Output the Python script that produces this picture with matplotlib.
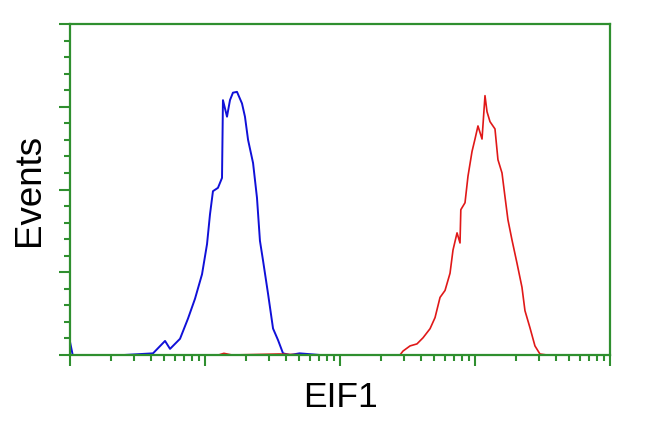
import numpy as np
import matplotlib
matplotlib.use("Agg")
import matplotlib.pyplot as plt
from matplotlib.ticker import LogLocator, MultipleLocator, NullFormatter

# log10 fluorescence intensity (decades) and event counts
blue_log = [0.0, 0.02, 0.05, 0.40, 0.615, 0.704, 0.741, 0.815, 0.874, 0.926,
            0.978, 1.015, 1.037, 1.059, 1.096, 1.126, 1.133, 1.163, 1.185, 1.207,
            1.237, 1.274, 1.296, 1.319, 1.356, 1.385, 1.407, 1.430, 1.467, 1.504,
            1.541, 1.578, 1.630, 1.700, 1.852]
blue_counts = [8, 0, 0, 0, 1, 8.5, 3.7, 9.8, 22, 34,
               48.8, 67, 85, 99, 101, 107, 154, 144, 154, 158.5,
               159, 152, 144, 130, 116, 95, 69, 57, 37, 16,
               9, 1, 0, 1, 0]

red_log = [1.10, 1.14, 1.20, 1.55, 1.75, 2.222, 2.444, 2.467, 2.519, 2.570, 2.615, 2.667,
           2.704, 2.741, 2.778, 2.815, 2.837, 2.867, 2.889, 2.895, 2.926, 2.948,
           2.978, 3.000, 3.022, 3.052, 3.074, 3.089, 3.111, 3.148, 3.170,
           3.200, 3.222, 3.244, 3.274, 3.311, 3.348, 3.370, 3.407, 3.444,
           3.481, 3.533]
red_counts = [0, 1, 0, 0.6, 0, 0, 0, 2.4, 5.5, 6.7, 10.4, 15.9,
              22.6, 34.8, 39, 49.4, 63.4, 73.8, 67.7, 87.8, 92, 108,
              123, 130.5, 138.4, 130.5, 156.7, 147, 141, 136.6, 118,
              110, 95.7, 81.7, 69.5, 55.5, 40.9, 26.8, 16.5, 5.5,
              0.6, 0]

x_label = "EIF1"
y_label = "Events"

green = "#2f8f2f"

fig = plt.figure(figsize=(6.5, 4.32), dpi=100)
ax = fig.add_axes([70/650, 1-355/432, 540/650, 331/432])

ax.plot(10**np.array(blue_log), blue_counts, color="#1010d8", lw=1.4)
ax.plot(10**np.array(red_log), red_counts, color="#e01818", lw=1.2)

ax.set_xscale("log")
ax.set_xlim(1, 10**4)
ax.set_ylim(0, 200)

for s in ax.spines.values():
    s.set_color(green)
    s.set_linewidth(1.6)

ax.xaxis.set_major_locator(LogLocator(base=10, numticks=10))
ax.xaxis.set_minor_locator(LogLocator(base=10, subs=np.arange(2, 10), numticks=100))
ax.xaxis.set_major_formatter(NullFormatter())
ax.xaxis.set_minor_formatter(NullFormatter())
ax.yaxis.set_major_locator(MultipleLocator(50))
ax.yaxis.set_minor_locator(MultipleLocator(10))
ax.yaxis.set_major_formatter(NullFormatter())

ax.tick_params(axis="both", which="major", direction="out", length=8, width=1.5,
               color=green)
ax.tick_params(axis="both", which="minor", direction="out", length=4, width=1.5,
               color=green)

ax.set_xlabel(x_label, fontsize=25.5, family="Liberation Sans", labelpad=7)
ax.set_ylabel(y_label, fontsize=26.5, family="Liberation Sans", labelpad=5)

fig.savefig("out.png", dpi=100, facecolor="white")
